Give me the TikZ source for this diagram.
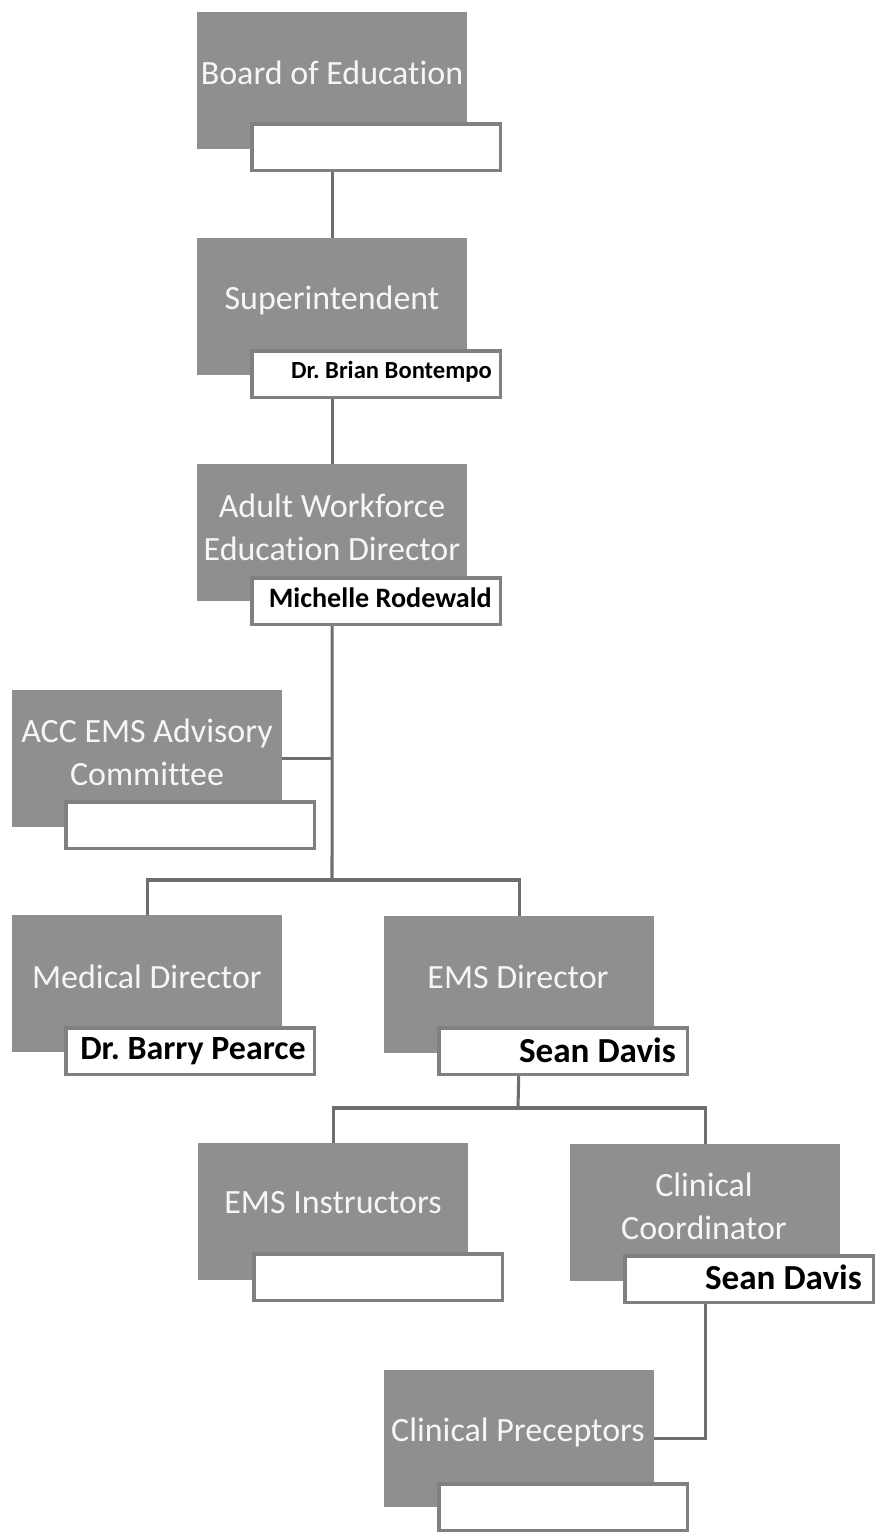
\documentclass[tikz,border=0pt]{standalone}
\usepackage{fontspec}
\setmainfont[Ligatures=NoCommon]{Carlito}
\usetikzlibrary{backgrounds}
\definecolor{boxgray}{RGB}{143,143,143}
\definecolor{linegray}{RGB}{110,110,110}
\definecolor{rimgray}{RGB}{128,128,128}
\definecolor{titlewhite}{RGB}{246,246,246}
\frenchspacing

\begin{document}
\begin{tikzpicture}[x=0.3mm,y=-0.3mm,
  rolebox/.style={fill=boxgray,inner sep=0,anchor=north west,
    minimum width=81mm,minimum height=41.1mm},
  namebox/.style={fill=white,draw=rimgray,line width=3pt,inner sep=0,
    anchor=north west,minimum width=74.6mm,minimum height=14mm},
  roletext/.style={text=titlewhite,inner sep=0,align=center,
    font=\fontsize{29}{36.5}\selectfont},
  nametext/.style={anchor=east,inner sep=0,text=black},
  link/.style={draw=linegray,line width=2.6pt}]

\useasboundingbox (0,0) rectangle (876,1539);

% role boxes (grey) and name boxes (white)
\node[rolebox] (bg) at (197,12) {};
\node[namebox] (bw) at (250,122) {};
\node[roletext] (bt) at (332,73) {Board of Education};

\node[rolebox] (sg) at (197,238) {};
\node[namebox] (sw) at (250,349) {};
\node[roletext] (st) at (332,300) {Superintendent};
\node[nametext,font=\bfseries\fontsize{21}{24}\selectfont] (sn) at (492,372) {Dr. Brian Bontempo};

\node[rolebox] (ag) at (197,464) {};
\node[namebox] (aw) at (250,576) {};
\node[roletext] (at) at (332,527) {Adult Workforce\\Education Director};
\node[nametext,font=\bfseries\fontsize{24}{28}\selectfont] (an) at (492,598) {Michelle Rodewald};

\node[rolebox] (cg) at (12,690) {};
\node[namebox] (cw) at (64,800) {};
\node[roletext] (ct) at (147,752) {ACC EMS Advisory\\Committee};

\node[rolebox] (mg) at (12,915) {};
\node[namebox] (mw) at (64,1026) {};
\node[roletext] (mt) at (147,977) {Medical Director};
\node[nametext,font=\bfseries\fontsize{29}{34}\selectfont] (mn) at (306,1051) {Dr. Barry Pearce};

\node[rolebox] (eg) at (384,916) {};
\node[namebox] (ew) at (437,1026) {};
\node[roletext] (et) at (518,977) {EMS Director};
\node[nametext,font=\bfseries\fontsize{30}{34}\selectfont] (en) at (676,1050) {Sean Davis};

\node[rolebox] (ig) at (198,1143) {};
\node[namebox] (iw) at (252,1252) {};
\node[roletext] (it) at (333,1203) {EMS Instructors};

\node[rolebox] (kg) at (570,1144) {};
\node[namebox] (kw) at (623,1254) {};
\node[roletext] (kt) at (704,1206) {Clinical\\Coordinator};
\node[nametext,font=\bfseries\fontsize{30}{34}\selectfont] (kn) at (862,1277) {Sean Davis};

\node[rolebox] (pg) at (384,1370) {};
\node[namebox] (pw) at (437,1482) {};
\node[roletext] (pt) at (518,1432) {Clinical Preceptors};

% reporting lines, kept behind the boxes
\coordinate (j1) at (332,880);
\coordinate (j2) at (518,1108);
\begin{pgfonlayer}{background}
  \draw[link] (bg.south) -- (sg.north);
  \draw[link] (sg.south) -- (ag.north);
  \draw[link] (ag.south) -- (j1);
  \draw[link] (cg.east) -- (cg.east -| j1);
  \draw[link] (mg.north) |- (j1) -| (eg.north);
  \draw[link] (eg.south) -- (j2);
  \draw[link] (ig.north) |- (j2) -| (kg.north);
  \draw[link] (kg.south) |- (pg.east);
\end{pgfonlayer}
\end{tikzpicture}
\end{document}
